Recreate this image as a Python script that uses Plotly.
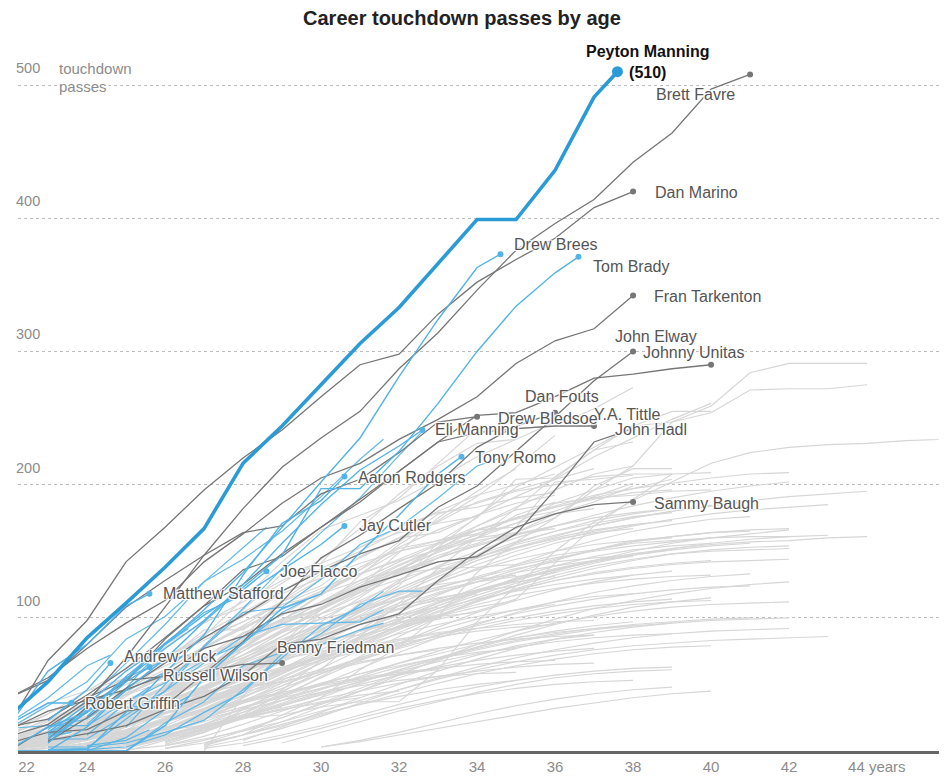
import plotly.graph_objects as go

TITLE = "Career touchdown passes by age"

# ---------------- data ----------------
# Peyton Manning: cumulative touchdown passes by age (last point = 2014 season so far)
peyton_ages = [22, 23, 24, 25, 26, 27, 28, 29, 30, 31, 32, 33, 34, 35, 36, 37, 37.6]
peyton_tds = [26, 52, 85, 111, 138, 167, 216, 244, 275, 306, 333, 366, 399, 399, 436, 491, 510]

# Retired players highlighted in dark grey (first season age, cumulative TDs per season)
dark_names = ["Brett Favre", "Dan Marino", "Fran Tarkenton", "John Elway", "Johnny Unitas",
              "Dan Fouts", "Drew Bledsoe", "Y.A. Tittle", "John Hadl", "Sammy Baugh", "Benny Friedman"]
dark_first_age = [22, 22, 21, 23, 23, 22, 21, 22, 22, 23, 22]
dark_tds = [
    [0, 18, 37, 70, 108, 147, 182, 213, 235, 255, 287, 314, 346, 376, 396, 414, 442, 464, 497, 508],
    [20, 68, 98, 142, 168, 196, 220, 241, 266, 290, 298, 328, 352, 369, 385, 408, 420],
    [18, 40, 55, 77, 96, 113, 142, 163, 186, 205, 216, 234, 249, 266, 291, 308, 317, 342],
    [7, 25, 47, 66, 85, 102, 120, 135, 148, 158, 183, 199, 225, 251, 278, 300],
    [9, 33, 52, 84, 109, 125, 148, 168, 187, 210, 232, 252, 254, 266, 280, 283, 287, 290],
    [6, 14, 16, 30, 34, 58, 82, 112, 145, 162, 182, 201, 228, 244, 254],
    [15, 40, 53, 80, 108, 128, 147, 164, 169, 193, 204, 224, 247, 251],
    [16, 30, 38, 46, 57, 77, 86, 103, 110, 123, 132, 142, 146, 163, 196, 232, 242],
    [18, 24, 42, 62, 85, 109, 136, 146, 168, 189, 210, 232, 239, 242, 244, 244],
    [8, 13, 19, 31, 41, 57, 80, 84, 95, 103, 128, 150, 168, 178, 185, 187],
    [11, 20, 40, 53, 56, 60, 65, 66],
]

# Active players highlighted and labelled (blue)
blue_names = ["Drew Brees", "Tom Brady", "Eli Manning", "Tony Romo", "Aaron Rodgers", "Jay Cutler",
              "Joe Flacco", "Matthew Stafford", "Andrew Luck", "Russell Wilson", "Robert Griffin"]
blue_first_age = [22, 23, 23, 24, 22, 23, 23, 21, 23, 24, 22]
blue_tds = [
    [1, 18, 29, 56, 80, 106, 134, 168, 202, 235, 281, 324, 363],
    [0, 18, 46, 69, 97, 123, 147, 197, 197, 225, 261, 300, 334, 359],
    [6, 30, 54, 77, 98, 125, 156, 185, 211, 229],
    [0, 0, 19, 55, 81, 107, 118, 149, 177, 208],
    [0, 0, 1, 29, 59, 87, 132, 171, 188],
    [9, 29, 54, 81, 104, 117, 136, 155],
    [14, 35, 60, 80, 102, 121],
    [13, 19, 60, 80, 109],
    [23, 46],
    [26, 52],
    [20, 36],
]
blue_2014_age = [34.6, 36.6, 32.6, 33.6, 30.6, 30.6, 28.6, 25.6, 24.6, 25.6, 23.6]
blue_2014_td = [373, 371, 241, 221, 206, 169, 135, 118, 66, 63, 36]

# Other active players (blue, unlabelled)
active_first_age = [23, 22, 23, 25, 21, 22, 24, 24, 24, 23, 23, 23, 23, 23, 22, 23, 23, 23, 23, 24]
active_tds = [
    [1, 2, 24, 45, 79, 107, 137, 164, 190, 222],
    [17, 34, 52, 84, 101, 127, 144, 165, 191, 219],
    [16, 38, 66, 95, 127, 153],
    [18, 50, 78, 104, 108, 129, 155, 168, 190, 214],
    [1, 17, 19, 19, 37, 51, 68, 81, 104],
    [21, 40, 64],
    [20, 47, 80],
    [0, 10, 31],
    [12, 36],
    [6, 33],
    [3, 3, 6, 14, 23, 46, 70, 94, 108],
    [9, 9, 27, 45, 66, 86, 95, 96, 97],
    [12, 29, 55, 68],
    [18, 24, 45, 59],
    [0, 0, 0, 0, 21, 37, 64, 74, 80, 91],
    [1, 1, 3, 12, 29, 44, 73, 88, 110, 120],
    [13, 31, 33],
    [12],
    [11],
    [4, 8],
]
active_2014_age = [32.6, 31.6, 28.6, 34.6, 29.6, 24.6, 26.6, 26.6, 25.6, 24.6,
                   31.6, 31.6, 26.6, 26.6, 31.6, 32.6, 25.6, 23.6, 23.6, 25.6]
active_2014_td = [240, 234, 168, 220, 113, 72, 92, 41, 48, 45,
                  120, 106, 72, 59, 96, 120, 34, 17, 14, 16]

# Every other quarterback (light grey): first season age, cumulative TDs per season
bg_first_age = [
    22, 23, 21, 22, 23, 24, 22, 25, 21, 23, 22, 24, 23, 22, 26, 24, 22, 23, 21, 24,
    25, 22, 23, 24, 22, 23, 25, 21, 22, 24, 23, 26, 22, 24, 23, 22, 25, 21, 23, 24,
    22, 23, 26, 22, 24, 23, 22, 25, 21, 23, 24, 22, 27, 23, 22, 24, 25, 22, 23, 24,
    26, 22, 23, 25, 27, 24, 22, 23, 21, 26, 22, 23, 24, 22, 25, 23, 22, 24, 26, 21,
    27, 23, 28, 29, 30, 24, 22, 25, 28, 27, 30,
    23, 22, 23, 23, 26, 23, 23, 24, 27, 22, 23, 22, 22, 22, 22, 24, 28, 24, 22, 22,
    23, 22, 25, 22,
    23, 24, 22, 25, 23, 26, 24, 22, 27, 23,
]
bg_tds = [
    [8, 20, 35, 52, 70, 85, 101, 118, 130, 141, 150, 158, 163],
    [5, 14, 30, 48, 62, 80, 95, 112, 126, 140, 152, 160, 171, 178, 182],
    [2, 10, 22, 37, 55, 70, 88, 104, 120, 137, 150, 165, 180, 192, 200, 208],
    [3, 9, 18, 30, 41, 54, 66, 77, 86, 95, 102, 108],
    [10, 25, 41, 60, 78, 94, 112, 129, 145, 160, 172, 187, 196, 204, 212],
    [4, 12, 22, 35, 47, 62, 74, 88, 100, 111, 120, 128],
    [0, 6, 15, 28, 42, 58, 75, 90, 108, 124, 139, 152, 166, 175, 183, 189, 194, 196],
    [6, 15, 27, 40, 55, 68, 80, 92, 101, 108, 113],
    [1, 5, 12, 21, 33, 44, 56, 68, 79, 90, 99, 107, 113, 118],
    [2, 8, 16, 28, 40, 55, 72, 88, 102, 118, 131, 143, 152, 160, 166, 170],
    [12, 28, 45, 62, 80, 96, 112, 128, 141, 153, 164, 171, 176],
    [3, 10, 19, 31, 44, 58, 71, 86, 98, 111, 123, 134, 143, 151, 158, 161, 164, 165],
    [1, 4, 10, 17, 26, 36, 47, 58, 70, 80, 91, 99, 106, 112, 116, 118],
    [6, 14, 25, 38, 52, 64, 77, 89, 99, 106],
    [5, 14, 26, 40, 56, 71, 86, 100, 113, 124, 135, 143, 150, 156, 160, 163, 166],
    [9, 22, 37, 53, 69, 86, 103, 119, 136, 150, 163, 175, 184, 192, 197, 201, 205, 208, 209],
    [2, 6, 13, 20, 29, 38, 46, 54, 61, 67, 72, 76],
    [7, 16, 27, 40, 53, 67, 80, 95, 108, 122, 134, 145, 155, 162, 169, 175, 180, 184, 187],
    [4, 12, 24, 36, 50, 64, 78, 92, 106, 118, 128, 136, 142],
    [2, 7, 14, 22, 32, 41, 50, 58, 66, 73, 80, 85, 89, 92, 94],
    [10, 24, 39, 55, 72, 88, 104, 118, 131, 143, 153, 161, 169, 175, 180, 184, 188, 191, 193, 195],
    [5, 13, 23, 35, 46, 58, 70, 83, 95, 105, 115, 123, 130, 137, 142, 145, 147],
    [3, 9, 18, 29, 39, 50, 60, 70, 79, 88, 95, 101, 106, 110],
    [6, 15, 25, 36, 48, 59, 71, 82, 93, 104, 113, 121, 128, 133, 137, 140, 142, 143, 144],
    [9, 20, 33, 47, 61, 77, 93, 107, 120, 133, 144, 156, 166, 175, 183, 190, 197, 204],
    [0, 3, 8, 16, 25, 33, 42, 51, 58, 64, 70, 74, 77],
    [3, 10, 20, 32, 45, 58, 68, 78, 87, 96, 103, 109, 114, 118, 121, 123, 124],
    [3, 9, 17, 26, 36, 47, 59, 70, 81, 92, 101, 109, 115, 120, 124],
    [1, 4, 9, 15, 22, 29, 36, 43, 49, 54, 58, 61],
    [8, 20, 32, 46, 61, 76, 91, 106, 120, 133, 145, 156, 165, 173, 178, 182, 184],
    [4, 11, 20, 31, 43, 56, 69, 82, 95, 107, 118, 127, 136, 144, 151, 157, 161, 164, 166, 167],
    [2, 8, 16, 25, 35, 45, 55, 64, 72, 79, 84, 87],
    [7, 17, 29, 42, 56, 70, 83, 96, 108, 119, 129, 138, 146, 153, 159, 164, 167],
    [1, 5, 11, 18, 26, 34, 42, 50, 57, 63, 68, 72, 75, 77],
    [5, 12, 22, 33, 46, 59, 73, 86, 99, 111, 122, 131, 139, 145, 150, 154, 157, 160],
    [3, 8, 15, 24, 34, 44, 54, 63, 71, 78, 84, 89, 92],
    [5, 13, 24, 36, 49, 62, 76, 89, 101, 112, 122, 130, 137, 143, 148, 151, 153, 154],
    [6, 16, 28, 41, 55, 69, 83, 97, 110, 122, 133, 143, 151, 158, 163, 167],
    [2, 6, 11, 18, 25, 33, 40, 47, 53, 58, 62, 65, 67, 68],
    [4, 11, 21, 32, 45, 58, 72, 85, 98, 109, 120, 129, 137, 143, 148, 152, 155, 157, 158, 160, 161],
    [4, 11, 20, 30, 41, 52, 64, 76, 87, 97, 106, 114, 121, 127, 131],
    [8, 19, 31, 44, 58, 72, 86, 100, 113, 126, 139, 150, 160, 169, 177, 184, 190, 195, 199, 202],
    [4, 11, 20, 30, 40, 51, 61, 70, 78, 85, 90, 94, 97],
    [2, 7, 14, 23, 32, 42, 51, 60, 68, 75, 81, 86, 90, 93, 95],
    [3, 9, 17, 27, 38, 49, 60, 70, 79, 87, 94, 100, 105, 109, 112, 114],
    [6, 14, 24, 35, 47, 60, 73, 86, 98, 109, 119, 127, 134, 139, 143, 146],
    [0, 2, 6, 11, 17, 24, 31, 38, 44, 49, 53, 56, 58, 59],
    [7, 17, 29, 42, 56, 69, 82, 94, 105, 115, 124, 132, 139, 144, 148, 150, 151, 152],
    [2, 7, 15, 25, 36, 48, 60, 72, 84, 95, 105, 114, 121, 127, 131, 134],
    [3, 8, 15, 23, 32, 41, 51, 60, 69, 77, 85, 92, 98, 103, 107, 110, 112, 113],
    [5, 13, 23, 34, 46, 58, 71, 84, 96, 107, 117, 126, 134, 141, 147, 152, 156, 159, 161, 162],
    [5, 12, 21, 31, 42, 53, 63, 73, 82, 90, 96, 101, 104],
    [4, 12, 22, 33, 45, 57, 69, 80, 90, 99, 107, 113, 118, 122, 125, 127],
    [1, 3, 7, 12, 18, 25, 32, 39, 45, 51, 56, 60, 63, 65, 66],
    [8, 18, 30, 43, 57, 71, 85, 99, 112, 124, 135, 145, 154, 162, 169, 175, 179, 182],
    [2, 6, 12, 19, 27, 35, 44, 52, 60, 67, 73, 78, 82, 85, 87, 88],
    [3, 9, 17, 26, 36, 46, 56, 66, 75, 83, 90, 96, 101, 105, 108, 110, 111, 112],
    [4, 10, 18, 27, 37, 48, 59, 70, 80, 90, 99, 107, 114, 120, 125, 129, 132],
    [5, 12, 21, 32, 43, 55, 67, 79, 91, 102, 112, 121, 129, 136, 142, 147, 151, 154, 156],
    [0, 4, 10, 17, 25, 34, 43, 52, 61, 69, 76, 82, 87, 91, 94, 96],
    [6, 15, 26, 38, 50, 62, 74, 85, 95, 104, 112, 119, 124, 128, 131, 133],
    [3, 7, 13, 20, 28, 36, 44, 52, 59, 66, 72, 77, 81, 84, 86, 87],
    [7, 16, 26, 37, 49, 62, 75, 88, 101, 114, 126, 137, 147, 156, 163, 169, 174, 178, 181, 183, 185],
    [1, 4, 9, 15, 22, 30, 38, 46, 54, 61, 67, 72, 76, 79, 81, 83, 84, 85, 86],
    [3, 9, 17, 26, 36, 46, 55, 63, 70, 76, 81, 85, 88, 90, 91, 92],
    [6, 14, 24, 36, 49, 62, 76, 90, 104, 117, 129, 140, 150, 158, 165, 170, 174, 176],
    [2, 5, 10, 16, 23, 30, 37, 44, 50, 55, 59, 62],
    [4, 10, 18, 28, 38, 49, 61, 72, 83, 93, 102, 110, 117, 122, 126, 129, 131, 132],
    [5, 13, 23, 34, 46, 58, 70, 82, 93, 103, 112, 119, 125, 129, 132],
    [2, 6, 12, 19, 27, 35, 43, 51, 58, 64, 69, 73, 76, 78, 79],
    [3, 8, 14, 19],
    [5, 12, 20, 26, 30],
    [2, 9, 17],
    [6, 15, 22, 30, 35, 38],
    [4, 11, 19, 27, 33],
    [1, 6, 13, 22, 31, 38, 44],
    [8, 18, 26, 33, 40, 45, 49, 52],
    [3, 7, 12, 18, 25, 31, 36, 40],
    [7, 16, 24, 31, 37, 42, 45],
    [2, 6, 11, 18, 26, 34, 41, 47, 52],
    [5, 12, 20, 28, 35, 41, 46, 50, 53],
    [9, 20, 31, 42, 52, 61, 69, 75, 79, 82],
    [4, 10, 17, 25, 32, 38, 43, 47, 50, 52, 53],
    [6, 14, 22, 30, 37, 44, 50, 55, 58, 60, 61],
    [3, 8, 14, 21, 28, 34, 39, 43, 46, 48],
    [10, 22, 35, 48, 60, 71, 81, 90, 97, 102],
    [4, 10, 17, 26, 35, 44, 53, 62, 70, 77, 83, 88, 92, 95, 97, 98],
    [6, 12, 20, 29, 38, 47, 55, 63, 70, 77, 83, 88, 92, 95, 97, 99, 100],
    [8, 18, 29, 40, 50, 60, 69, 77, 84, 89, 93, 96, 98, 99, 100],
    [2, 6, 12, 19, 27, 35, 42, 48, 53, 57, 60, 62, 63],
    [3, 7, 12, 17, 22, 27, 32, 36, 40, 43, 45],
    [1, 16, 35, 52, 78, 106, 133, 141, 172, 190, 216, 242, 242, 244, 257, 273],
    [0, 2, 13, 31, 49, 67, 88, 102, 120, 138, 153, 166, 177, 191, 204, 221, 235, 249, 261],
    [0, 5, 11, 24, 46, 78, 95, 107, 122, 136, 153, 176, 198, 213, 228, 244, 255, 255],
    [3, 19, 46, 70, 86, 114, 142, 166, 177, 188, 204, 221, 234, 247],
    [22, 41, 56, 81, 106, 132, 155, 173, 191, 213, 237],
    [3, 11, 13, 16, 19, 27, 44, 61, 86, 111, 137, 160, 182, 206, 226, 232],
    [8, 29, 53, 78, 97, 108, 126, 144, 167, 193, 214, 231, 234],
    [0, 2, 9, 16, 31, 46, 68, 91, 109, 127, 147, 164, 175, 199, 212, 212],
    [0, 41, 77, 84, 87, 93, 99, 105, 114, 141, 169, 189, 208],
    [1, 6, 25, 43, 67, 91, 91, 110, 117, 136, 152, 158, 166, 168, 202, 204, 207],
    [14, 25, 36, 48, 70, 89, 98, 117, 136, 157, 178, 186, 195, 200, 206, 208, 208],
    [6, 18, 30, 42, 52, 59, 72, 89, 106, 123, 149, 175, 195, 212],
    [2, 8, 14, 22, 34, 45, 59, 72, 88, 105, 127, 151, 169, 183, 196, 208, 214],
    [0, 3, 16, 25, 39, 54, 67, 82, 97, 115, 135, 153, 162, 171, 186, 196, 205, 208, 209],
    [1, 5, 12, 23, 35, 48, 59, 79, 103, 117, 134, 147, 156, 167, 180, 191, 201],
    [13, 27, 36, 36, 47, 69, 90, 111, 128, 145, 160, 164, 178, 187, 199],
    [12, 27, 40, 61, 78, 101, 134, 157, 175, 196, 214, 247, 259, 284, 291, 291, 291],
    [5, 18, 38, 55, 63, 77, 91, 107, 124, 157, 175, 204, 205, 226, 244, 247, 254, 271, 272, 272, 275],
    [0, 0, 0, 0, 8, 14, 25, 27, 33, 37, 37, 61, 97, 124, 150, 172, 188, 202, 216, 224, 228, 230, 231, 233, 234, 235, 236],
    [1, 4, 15, 26, 41, 60, 84, 99, 106, 121, 133, 137, 138, 140, 147, 151, 156, 158, 160, 161, 161],
    [4, 18, 43, 55, 69, 83, 98, 118, 133, 150, 156, 169, 181, 186, 190, 192, 195, 196],
    [3, 12, 21, 37, 46, 62, 78, 97, 111, 124, 137, 149, 160, 177, 187],
    [14, 40, 59, 86, 113, 133, 153, 168, 179, 183, 190, 194],
    [15, 36, 45, 55, 67, 85, 97, 112, 124, 146, 160, 164, 177, 186, 192],
    [6, 16, 29, 44, 60, 77, 95, 112, 128, 142, 155, 166, 174, 180],
    [4, 12, 23, 36, 51, 67, 83, 99, 114, 128, 140, 150, 158, 165, 170, 173],
    [2, 9, 19, 31, 45, 60, 75, 91, 106, 120, 133, 145, 155, 163, 169],
    [5, 13, 24, 37, 51, 66, 80, 94, 107, 119, 130, 139, 146, 151, 154, 156],
    [3, 11, 22, 35, 49, 63, 78, 93, 108, 122, 135, 147, 157, 165, 171, 176, 179],
    [7, 17, 29, 42, 55, 68, 81, 93, 104, 113, 121, 127, 132, 135],
    [2, 8, 17, 28, 40, 53, 66, 79, 91, 102, 112, 121, 128, 134, 138, 141, 143],
    [4, 10, 19, 30, 42, 55, 68, 81, 94, 106, 117, 127, 136, 144, 150, 155, 158, 160],
    [6, 15, 25, 36, 47, 58, 68, 78, 87, 95, 102, 108, 112, 115],
    [1, 6, 14, 24, 35, 47, 60, 73, 86, 98, 109, 119, 128, 136, 143, 148, 151],
]

x_tick_vals = [22.45, 24, 26, 28, 30, 32, 34, 36, 38, 40, 42, 44.25]
x_tick_text = ["22", "24", "26", "28", "30", "32", "34", "36", "38", "40", "42", "44 years"]
y_grid_vals = [100, 200, 300, 400, 500]

# ---------------- label placement (age, touchdowns) ----------------
label_pos = {
    "Brett Favre": (38.54, 493), "Dan Marino": (38.51, 419), "Drew Brees": (34.9, 380),
    "Tom Brady": (36.92, 364), "Fran Tarkenton": (38.49, 341), "John Elway": (37.49, 311),
    "Johnny Unitas": (38.21, 299), "Dan Fouts": (35.18, 266), "Y.A. Tittle": (36.95, 253),
    "Drew Bledsoe": (34.49, 250), "John Hadl": (37.49, 241.5), "Eli Manning": (32.87, 241.7),
    "Tony Romo": (33.9, 220.7), "Aaron Rodgers": (30.9, 205), "Jay Cutler": (30.92, 169),
    "Joe Flacco": (28.9, 134.4), "Matthew Stafford": (25.9, 117.9), "Sammy Baugh": (38.49, 186),
    "Benny Friedman": (28.82, 78), "Andrew Luck": (24.9, 71.3), "Russell Wilson": (25.9, 57),
    "Robert Griffin": (23.9, 35.3),
}

FONT = "Liberation Sans, Arial, sans-serif"
LIGHT = "#d6d6d6"
BLUE = "#52b3e6"
PEYTON_BLUE = "#2b9bd8"
DARK = "#767676"
HALO = "1px 1px 1px #fff, -1px -1px 1px #fff, 1px -1px 1px #fff, -1px 1px 1px #fff, 0 0 2px #fff"

fig = go.Figure()

# background lines in one trace
bx, by = [], []
for a0, vals in zip(bg_first_age, bg_tds):
    bx += [a0 + i for i in range(len(vals))] + [None]
    by += list(vals) + [None]
fig.add_trace(go.Scatter(x=bx, y=by, mode="lines", line=dict(color=LIGHT, width=1.15),
                         hoverinfo="skip", showlegend=False))

# other active players
ax, ay = [], []
for a0, vals, pa, pv in zip(active_first_age, active_tds, active_2014_age, active_2014_td):
    ax += [a0 + i for i in range(len(vals))] + [pa, None]
    ay += list(vals) + [pv, None]
fig.add_trace(go.Scatter(x=ax, y=ay, mode="lines", line=dict(color=BLUE, width=1.2),
                         hoverinfo="skip", showlegend=False, opacity=0.9))

# dark grey retired players
for name, a0, vals in zip(dark_names, dark_first_age, dark_tds):
    xs = [a0 + i for i in range(len(vals))]
    fig.add_trace(go.Scatter(x=xs, y=vals, mode="lines", line=dict(color=DARK, width=1.3),
                             hoverinfo="skip", showlegend=False))
    fig.add_trace(go.Scatter(x=[xs[-1]], y=[vals[-1]], mode="markers",
                             marker=dict(color=DARK, size=6), hoverinfo="skip", showlegend=False))

# labelled active players
for name, a0, vals, pa, pv in zip(blue_names, blue_first_age, blue_tds, blue_2014_age, blue_2014_td):
    xs = [a0 + i for i in range(len(vals))] + [pa]
    ys = list(vals) + [pv]
    fig.add_trace(go.Scatter(x=xs, y=ys, mode="lines", line=dict(color=BLUE, width=1.4),
                             hoverinfo="skip", showlegend=False))
    fig.add_trace(go.Scatter(x=[pa], y=[pv], mode="markers",
                             marker=dict(color=BLUE, size=6), hoverinfo="skip", showlegend=False))

# Peyton Manning
fig.add_trace(go.Scatter(x=peyton_ages, y=peyton_tds, mode="lines",
                         line=dict(color=PEYTON_BLUE, width=3.6), hoverinfo="skip", showlegend=False))
fig.add_trace(go.Scatter(x=[peyton_ages[-1]], y=[peyton_tds[-1]], mode="markers",
                         marker=dict(color=PEYTON_BLUE, size=11), hoverinfo="skip",
                         showlegend=False, cliponaxis=False))

annotations = []
for name, (lx, ly) in label_pos.items():
    annotations.append(dict(x=lx, y=ly, xref="x", yref="y", text=name, showarrow=False,
                            xanchor="left", yanchor="middle",
                            font=dict(family=FONT, size=16, color="#555555", shadow=HALO)))

annotations.append(dict(x=38.38, y=517, xref="x", yref="y",
                        text="<b>Peyton Manning</b><br><b>(510)</b>", showarrow=False,
                        xanchor="center", yanchor="middle", align="center",
                        font=dict(family=FONT, size=16, color="#111111", shadow=HALO)))

for v in y_grid_vals:
    annotations.append(dict(x=-0.004, y=v, xref="paper", yref="y", text=str(v), showarrow=False,
                            xanchor="left", yanchor="middle", yshift=17,
                            font=dict(family=FONT, size=14.5, color="#8c8c8c")))
annotations.append(dict(x=0.042, y=500, xref="paper", yref="y", text="touchdown", showarrow=False,
                        xanchor="left", yanchor="middle", yshift=17,
                        font=dict(family=FONT, size=15, color="#8c8c8c")))
annotations.append(dict(x=0.042, y=500, xref="paper", yref="y", text="passes", showarrow=False,
                        xanchor="left", yanchor="middle", yshift=-1, bgcolor="#ffffff",
                        font=dict(family=FONT, size=15, color="#8c8c8c")))

# page body adds an 8px offset, so the figure is sized/placed to land on the 947x776 view
fig.update_layout(
    width=939, height=768,
    margin=dict(l=10, r=7, t=52, b=25, autoexpand=False),
    paper_bgcolor="#ffffff", plot_bgcolor="#ffffff",
    title=dict(text="<b>" + TITLE + "</b>", x=0.4835, xanchor="center", y=0.987, yanchor="middle",
               automargin=False,
               font=dict(family="Liberation Sans, Arial, sans-serif", size=20, color="#222222")),
    annotations=annotations,
    xaxis=dict(range=[22.23, 45.87], tickvals=x_tick_vals, ticktext=x_tick_text, automargin=False,
               showgrid=False, zeroline=False, showline=True, linecolor="#666666", linewidth=2.5,
               ticks="", tickfont=dict(family=FONT, size=15, color="#8c8c8c"), fixedrange=True),
    yaxis=dict(range=[0, 518.8], tickvals=y_grid_vals, showticklabels=False, showgrid=True,
               automargin=False,
               gridcolor="#bdbdbd", griddash="dot", gridwidth=1, zeroline=False, showline=False,
               fixedrange=True),
)

fig.write_html("out.html")
